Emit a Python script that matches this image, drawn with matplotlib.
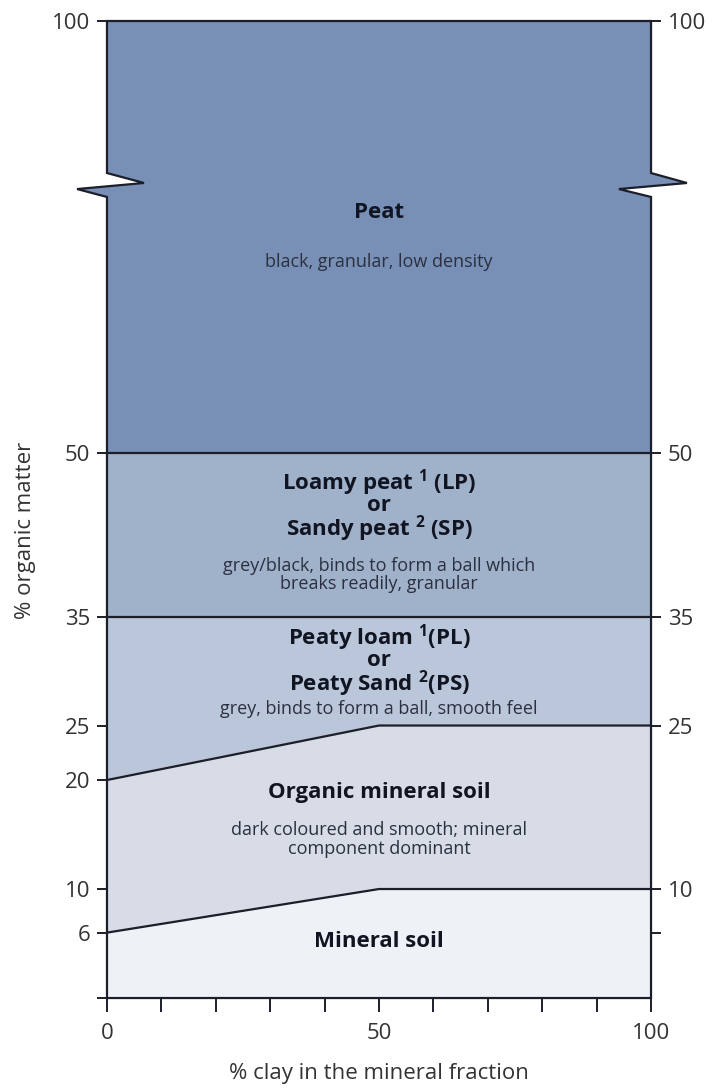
#soil classification by organic matter and clay content
import matplotlib
matplotlib.use('Agg')
import matplotlib.pyplot as plt
import numpy as np

plt.rcParams['font.family'] = ['Open Sans', 'DejaVu Sans']
plt.rcParams['mathtext.fontset'] = 'custom'
plt.rcParams['mathtext.rm'] = 'Open Sans'
plt.rcParams['mathtext.bf'] = 'Open Sans:bold'

#Data
clay = [0, 50, 100]
mineral_upper = [6, 10, 10]
organic_upper = [20, 25, 25]
peaty_loam_upper = [35, 35, 35]
loamy_peat_upper = [50, 50, 50]
peat_upper = [100, 100, 100]

y_ticks_left = [0, 6, 10, 20, 25, 35, 50, 100]
y_labels_left = ['', '6', '10', '20', '25', '35', '50', '100']
y_ticks_right = [6, 10, 25, 35, 50, 100]
y_labels_right = ['', '10', '25', '35', '50', '100']
x_ticks = list(range(0, 101, 10))
x_labels = ['0', '', '', '', '', '50', '', '', '', '', '100']

zones = ['Mineral soil', 'Organic mineral soil', 'Peaty loam', 'Loamy peat', 'Peat']
zone_colors = ['#eef1f5', '#d8dce7', '#bac6d9', '#a0b1ca', '#7890b6']

line_col = '#1c1f2a'
text_col = '#111522'
desc_col = '#2b3040'
tick_col = '#333333'

#axis above 50 is compressed (broken axis)
k = 0.7927
def fwd(y):
    y = np.asarray(y, dtype=float)
    return np.where(y <= 50, y, 50 + (y - 50) * k)
def inv(u):
    u = np.asarray(u, dtype=float)
    return np.where(u <= 50, u, 50 + (u - 50) / k)

fig = plt.figure(figsize=(7.2, 10.88), dpi=100)
ax = fig.add_axes([0.1486, 0.0827, 0.7556, 0.898])
ax.set_yscale('function', functions=(fwd, inv))
ax.set_xlim(0, 100)
ax.set_ylim(0, 100)

#filled zones
ax.fill_between(clay, 0, mineral_upper, color=zone_colors[0], lw=0)
ax.fill_between(clay, mineral_upper, organic_upper, color=zone_colors[1], lw=0)
ax.fill_between(clay, organic_upper, peaty_loam_upper, color=zone_colors[2], lw=0)
ax.fill_between(clay, peaty_loam_upper, loamy_peat_upper, color=zone_colors[3], lw=0)

#peat zone with the break marks, drawn in axes coords
y50 = ax.transAxes.inverted().transform(ax.transData.transform((0, 50)))[1]
zl = [(0, 0.8199), (-0.055, 0.828), (0.068, 0.8342), (0, 0.8444)]
zr = [(1, 0.8444), (1.066, 0.8342), (0.941, 0.828), (1, 0.8199)]
peat_poly = [(0, y50)] + zl + [(0, 1), (1, 1)] + zr + [(1, y50)]
ax.add_patch(plt.Polygon(peat_poly, closed=True, transform=ax.transAxes,
                         facecolor=zone_colors[4], edgecolor='none', clip_on=False))

#boundaries
for b in [mineral_upper, organic_upper, peaty_loam_upper, loamy_peat_upper]:
    ax.plot(clay, b, color=line_col, lw=1.6)

#outline with break zigzag
outline = [(0, 0)] + zl + [(0, 1), (1, 1)] + zr + [(1, 0), (0, 0)]
ox, oy = zip(*outline)
ax.plot(ox, oy, color=line_col, lw=1.6, transform=ax.transAxes, clip_on=False,
        solid_joinstyle='miter')

for s in ax.spines.values():
    s.set_visible(False)

#ticks
ax.set_yticks(y_ticks_left)
ax.set_yticklabels(y_labels_left)
ax.set_xticks(x_ticks)
ax.set_xticklabels(x_labels)
ax.tick_params(axis='y', direction='out', length=7, width=1.4, color=line_col,
               labelsize=16, labelcolor=tick_col, pad=5)
ax.tick_params(axis='x', direction='out', length=10, width=1.4, color=line_col,
               labelsize=16, labelcolor=tick_col, pad=8)
ax.yaxis.set_minor_locator(matplotlib.ticker.NullLocator())

ax2 = ax.twinx()
ax2.set_yscale('function', functions=(fwd, inv))
ax2.set_ylim(0, 100)
ax2.set_yticks(y_ticks_right)
ax2.set_yticklabels(y_labels_right)
ax2.tick_params(axis='y', direction='out', length=7, width=1.4, color=line_col,
                labelsize=16, labelcolor=tick_col, pad=5)
ax2.yaxis.set_minor_locator(matplotlib.ticker.NullLocator())
for s in ax2.spines.values():
    s.set_visible(False)

ax.set_ylabel('% organic matter', fontsize=16, color=tick_col)
ax.yaxis.set_label_coords(-0.130, 0.479)
ax.set_xlabel('% clay in the mineral fraction', fontsize=16, color=tick_col)
ax.xaxis.set_label_coords(0.5, -0.0665)

#zone labels
def bold(y, s, ls=1.2):
    ax.text(50, y, s, ha='center', va='center', fontsize=16, fontweight='bold',
            color=text_col, linespacing=ls)
def desc(y, s):
    ax.text(50, y, s, ha='center', va='center', fontsize=13, color=desc_col,
            linespacing=1.05)

bold(77.8, 'Peat')
desc(72.1, 'black, granular, low density')
bold(45.2, 'Loamy peat $^{\\mathbf{1}}$ (LP)\nor\nSandy peat $^{\\mathbf{2}}$ (SP)', ls=0.85)
desc(38.8, 'grey/black, binds to form a ball which\nbreaks readily, granular')
bold(31.0, 'Peaty loam $^{\\mathbf{1}}$(PL)\nor\nPeaty Sand $^{\\mathbf{2}}$(PS)', ls=0.85)
desc(26.51, 'grey, binds to form a ball, smooth feel')
bold(18.81, 'Organic mineral soil')
desc(14.54, 'dark coloured and smooth; mineral\ncomponent dominant')
bold(5.14, 'Mineral soil')

plt.savefig('out.png', dpi=100)
